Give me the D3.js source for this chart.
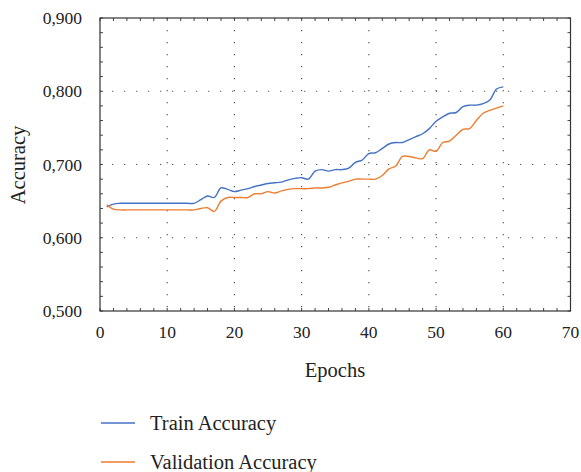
<!DOCTYPE html>
<html>
<head>
<meta charset="utf-8">
<script src="https://cdn.jsdelivr.net/npm/d3@7"></script>
<style>
  body { margin: 0; background: #fff; }
  text { font-family: "Liberation Serif", "DejaVu Serif", serif; fill: #222; }
</style>
</head>
<body>
<div id="chart"></div>
<script>
// epochs 1..60
const epochs = d3.range(1, 61);

const trainAcc = [
  0.642, 0.646, 0.647, 0.647, 0.647, 0.647, 0.647, 0.647, 0.647, 0.647,
  0.647, 0.647, 0.647, 0.647, 0.652, 0.657, 0.655, 0.668, 0.666, 0.663,
  0.665, 0.667, 0.670, 0.672, 0.674, 0.675, 0.676, 0.679, 0.681, 0.682,
  0.680, 0.691, 0.693, 0.691, 0.693, 0.693, 0.695, 0.703, 0.706, 0.715,
  0.716, 0.722, 0.728, 0.730, 0.730, 0.734, 0.738, 0.742, 0.749, 0.759,
  0.765, 0.770, 0.771, 0.779, 0.781, 0.781, 0.783, 0.788, 0.803, 0.806
];

const valAcc = [
  0.645, 0.639, 0.638, 0.638, 0.638, 0.638, 0.638, 0.638, 0.638, 0.638,
  0.638, 0.638, 0.638, 0.638, 0.640, 0.641, 0.636, 0.650, 0.655, 0.655,
  0.655, 0.655, 0.660, 0.660, 0.663, 0.661, 0.664, 0.666, 0.667, 0.667,
  0.667, 0.668, 0.668, 0.669, 0.672, 0.675, 0.677, 0.680, 0.680, 0.680,
  0.680, 0.685, 0.694, 0.698, 0.711, 0.711, 0.709, 0.708, 0.720, 0.718,
  0.730, 0.732, 0.740, 0.748, 0.749, 0.760, 0.770, 0.774, 0.777, 0.780
];

const xTicks = [0, 10, 20, 30, 40, 50, 60, 70];
const yTicks = [0.5, 0.6, 0.7, 0.8, 0.9];
const seriesNames = ['Train Accuracy', 'Validation Accuracy'];
const colors = ['#4472c4', '#ed7d31'];

const width = 581, height = 472;
const margin = { top: 18, left: 100, right: 10, bottom: 161 };
const plotW = 570.5 - margin.left;
const plotH = 311 - margin.top;

const svg = d3.select('#chart').append('svg')
  .attr('width', width)
  .attr('height', height);

const x = d3.scaleLinear().domain([0, 70]).range([0, plotW]);
const y = d3.scaleLinear().domain([0.5, 0.9]).range([plotH, 0]);

const g = svg.append('g')
  .attr('transform', `translate(${margin.left},${margin.top})`);

const fmt = v => d3.format('.3f')(v).replace('.', ',');

// dotted grid
g.append('g').selectAll('line')
  .data(xTicks.slice(1, -1))
  .join('line')
  .attr('x1', d => x(d)).attr('x2', d => x(d))
  .attr('y1', 0).attr('y2', plotH)
  .attr('stroke', '#555').attr('stroke-width', 1.2)
  .attr('stroke-dasharray', '1.2,10.8');
g.append('g').selectAll('line')
  .data(yTicks.slice(1, -1))
  .join('line')
  .attr('x1', 0).attr('x2', plotW)
  .attr('y1', d => y(d)).attr('y2', d => y(d))
  .attr('stroke', '#555').attr('stroke-width', 1.2)
  .attr('stroke-dasharray', '1.2,10.8');

// minor ticks on all four sides, pointing inward
const minorX = d3.range(0, 71, 2);
const minorY = d3.range(0.5, 0.9001, 0.02);
const tickLen = 3;
const ticks = g.append('g').attr('stroke', '#444').attr('stroke-width', 1);
ticks.selectAll('.tb').data(minorX).join('line')
  .attr('x1', d => x(d)).attr('x2', d => x(d))
  .attr('y1', plotH).attr('y2', plotH - tickLen);
ticks.selectAll('.tt').data(minorX).join('line')
  .attr('x1', d => x(d)).attr('x2', d => x(d))
  .attr('y1', 0).attr('y2', tickLen);
ticks.selectAll('.tl').data(minorY).join('line')
  .attr('x1', 0).attr('x2', tickLen)
  .attr('y1', d => y(d)).attr('y2', d => y(d));
ticks.selectAll('.tr').data(minorY).join('line')
  .attr('x1', plotW).attr('x2', plotW - tickLen)
  .attr('y1', d => y(d)).attr('y2', d => y(d));

// frame
g.append('rect')
  .attr('width', plotW).attr('height', plotH)
  .attr('fill', 'none').attr('stroke', '#333').attr('stroke-width', 1.2);

// tick labels
g.append('g').selectAll('text')
  .data(xTicks)
  .join('text')
  .attr('x', d => x(d))
  .attr('y', plotH + 27)
  .attr('text-anchor', 'middle')
  .style('font-size', '17.5px')
  .text(d => d);
g.append('g').selectAll('text')
  .data(yTicks)
  .join('text')
  .attr('x', -18)
  .attr('y', d => y(d))
  .attr('dy', '0.35em')
  .attr('text-anchor', 'end')
  .style('font-size', '17.5px')
  .text(fmt);

// axis titles
svg.append('text')
  .attr('x', 335).attr('y', 377)
  .attr('text-anchor', 'middle')
  .style('font-size', '20.5px')
  .text('Epochs');
svg.append('text')
  .attr('transform', 'translate(25,165) rotate(-90)')
  .attr('text-anchor', 'middle')
  .style('font-size', '20.5px')
  .text('Accuracy');

// lines
const line = d3.line()
  .x((d, i) => x(epochs[i]))
  .y(d => y(d))
  .curve(d3.curveCatmullRom.alpha(0.5));

[trainAcc, valAcc].forEach((s, i) => {
  g.append('path')
    .datum(s)
    .attr('fill', 'none')
    .attr('stroke', colors[i])
    .attr('stroke-width', 1.4)
    .attr('d', line);
});

// legend
const legend = svg.append('g');
seriesNames.forEach((name, i) => {
  const ly = 423 + i * 39;
  legend.append('line')
    .attr('x1', 101).attr('x2', 135)
    .attr('y1', ly).attr('y2', ly)
    .attr('stroke', colors[i]).attr('stroke-width', 1.4);
  legend.append('text')
    .attr('x', 150).attr('y', ly)
    .attr('dy', '0.35em')
    .style('font-size', '20.5px')
    .text(name);
});
</script>
</body>
</html>
